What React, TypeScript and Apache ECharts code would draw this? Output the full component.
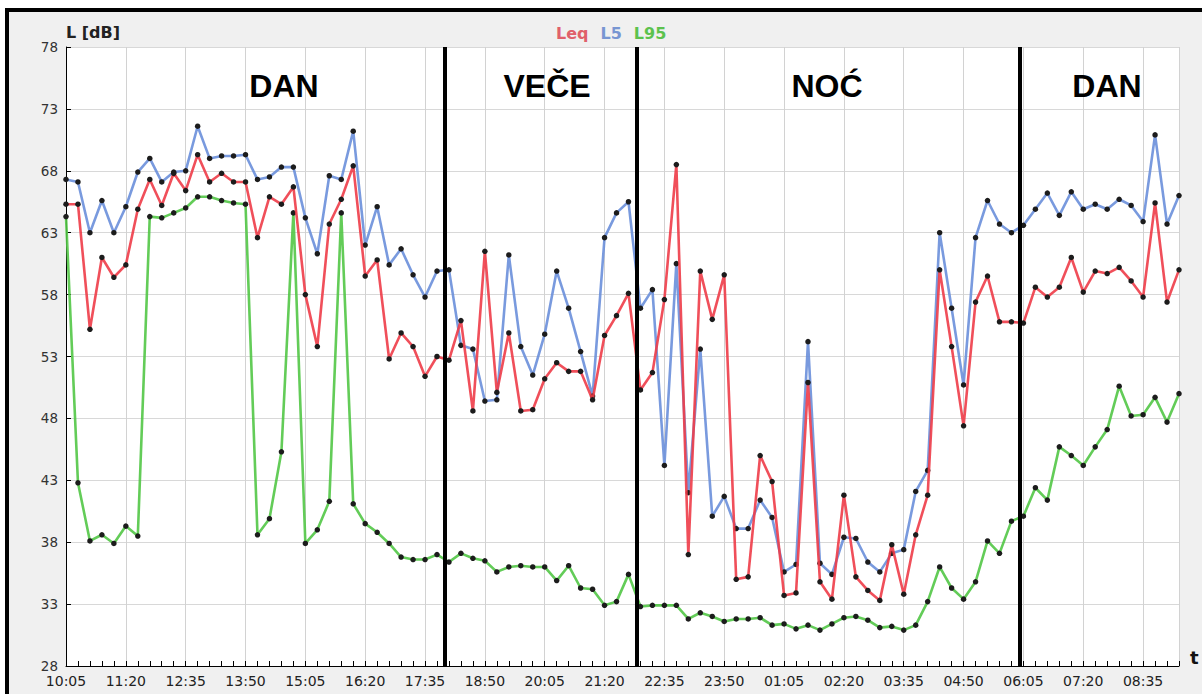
import React, { useEffect, useRef } from "react";
import * as echarts from "echarts";

// ---- data ----
const startTime = "10:05";
const stepMinutes = 15;

const leq = [
  65.3, 65.3, 55.2, 61.0, 59.4, 60.4, 64.9, 67.3, 65.2, 67.8,
  66.4, 69.3, 67.1, 67.8, 67.1, 67.1, 62.6, 65.9, 65.3, 66.7,
  58.0, 53.8, 63.7, 65.7, 68.4, 59.5, 60.8, 52.8, 54.9, 53.8,
  51.4, 53.0, 52.7, 55.9, 48.6, 61.5, 50.1, 54.9, 48.6, 48.7,
  51.2, 52.5, 51.8, 51.8, 49.5, 54.7, 56.3, 58.1, 50.3, 51.7,
  57.6, 68.5, 37.0, 59.9, 56.0, 59.6, 35.0, 35.2, 45.0, 42.9,
  33.7, 33.9, 50.9, 34.8, 33.4, 41.8, 35.2, 34.1, 33.3, 37.8,
  33.8, 38.6, 41.8, 60.0, 53.8, 47.4, 57.4, 59.5, 55.8, 55.8,
  55.7, 58.6, 57.8, 58.6, 61.0, 58.2, 59.9, 59.7, 60.2, 59.1,
  57.8, 65.4, 57.4, 60.0,
];

const l5 = [
  67.3, 67.1, 63.0, 65.6, 63.0, 65.1, 67.9, 69.0, 67.1, 67.9,
  68.0, 71.6, 69.0, 69.2, 69.2, 69.3, 67.3, 67.5, 68.3, 68.3,
  64.2, 61.3, 67.6, 67.3, 71.2, 62.0, 65.1, 60.4, 61.7, 59.6,
  57.8, 59.9, 60.0, 53.9, 53.6, 49.4, 49.5, 61.2, 53.8, 51.5,
  54.8, 59.9, 56.9, 53.4, 49.8, 62.6, 64.6, 65.5, 56.9, 58.4,
  44.2, 60.5, 42.0, 53.6, 40.1, 41.7, 39.1, 39.1, 41.4, 40.0,
  35.6, 36.2, 54.2, 36.3, 35.4, 38.4, 38.3, 36.4, 35.6, 37.1,
  37.4, 42.1, 43.8, 63.0, 56.9, 50.7, 62.6, 65.6, 63.7, 63.0,
  63.6, 64.9, 66.2, 64.4, 66.3, 64.9, 65.3, 64.9, 65.7, 65.2,
  63.9, 70.9, 63.7, 66.0,
];

const l95 = [
  64.3, 42.8, 38.1, 38.6, 37.9, 39.3, 38.5, 64.3, 64.2, 64.6,
  65.0, 65.9, 65.9, 65.6, 65.4, 65.3, 38.6, 39.9, 45.3, 64.6,
  37.9, 39.0, 41.3, 64.6, 41.1, 39.5, 38.8, 37.9, 36.8, 36.6,
  36.6, 37.0, 36.4, 37.1, 36.7, 36.5, 35.6, 36.0, 36.1, 36.0,
  36.0, 34.9, 36.1, 34.3, 34.2, 32.9, 33.2, 35.4, 32.8, 32.9,
  32.9, 32.9, 31.8, 32.3, 32.0, 31.6, 31.8, 31.8, 31.9, 31.3,
  31.4, 31.0, 31.3, 30.9, 31.4, 31.9, 32.0, 31.7, 31.1, 31.2,
  30.9, 31.3, 33.2, 36.0, 34.3, 33.4, 34.8, 38.1, 37.1, 39.7,
  40.1, 42.4, 41.4, 45.7, 45.0, 44.2, 45.7, 47.1, 50.6, 48.2,
  48.3, 49.7, 47.7, 50.0,
];

const seriesNames = ["Leq", "L5", "L95"];
const yMin = 28;
const yMax = 78;
const yStep = 5;
const labelStepMinutes = 75;
const periodBoundaries = ["18:00", "22:00", "06:00"];
const periodNames = ["DAN", "VEČE", "NOĆ", "DAN"];

// ---- helpers ----
const toMinutes = (t: string) => {
  const [h, m] = t.split(":").map(Number);
  return h * 60 + m;
};
const startMin = toMinutes(startTime);
const offsetOf = (t: string) => (toMinutes(t) - startMin + 1440) % 1440;
const fmtOffset = (v: number) => {
  const total = (startMin + v) % 1440;
  const h = Math.floor(total / 60);
  const m = total % 60;
  return `${String(h).padStart(2, "0")}:${String(m).padStart(2, "0")}`;
};
const xMax = (leq.length - 1) * stepMinutes;
const toPoints = (arr: number[]) => arr.map((v, i) => [i * stepMinutes, v - yMin]);

// ---- style ----
const lineColors: Record<string, string> = { Leq: "#ee3c48", L5: "#6a8fda", L95: "#52c646" };
const legendColors: Record<string, string> = { Leq: "#e0606a", L5: "#7896d2", L95: "#5cc24e" };
const periodLabelPos = [
  { x: 284, y: 86 },
  { x: 547, y: 86 },
  { x: 827, y: 86 },
  { x: 1107, y: 86 },
];

export default function App() {
  const ref = useRef<HTMLDivElement>(null);

  useEffect(() => {
    document.body.style.margin = "0";
    if (!ref.current) return;
    const chart = echarts.init(ref.current, undefined, { renderer: "svg" });

    const mkSeries = (name: string, data: number[], z: number, extra: any = {}) => ({
      name,
      type: "line",
      data: toPoints(data),
      xAxisIndex: 0,
      yAxisIndex: 0,
      z,
      symbol: "circle",
      symbolSize: 5.5,
      showSymbol: true,
      itemStyle: { color: "#1c1c1c", borderWidth: 0 },
      lineStyle: { color: lineColors[name], width: 2.6, opacity: 0.9 },
      emphasis: { disabled: true },
      ...extra,
    });

    const option: any = {
      animation: false,
      backgroundColor: "transparent",
      textStyle: { fontFamily: "DejaVu Sans" },
      legend: {
        top: 20,
        left: 546,
        itemWidth: 0,
        itemHeight: 0,
        itemGap: 7,
        selectedMode: false,
        data: seriesNames.map((n) => ({
          name: n,
          icon: "none",
          textStyle: { color: legendColors[n], fontWeight: "bold", fontSize: 16, fontFamily: "DejaVu Sans" },
        })),
      },
      grid: {
        left: 66,
        right: 23,
        top: 47,
        bottom: 28,
        show: true,
        backgroundColor: "#ffffff",
        borderWidth: 0,
      },
      xAxis: [
        {
          type: "value",
          min: 0,
          max: xMax,
          interval: labelStepMinutes,
          name: "t",
          nameLocation: "end",
          nameGap: 11,
          nameTextStyle: { fontWeight: "bold", fontSize: 18, color: "#111", verticalAlign: "bottom", fontFamily: "DejaVu Sans" },
          axisLine: { show: true, lineStyle: { color: "#000", width: 1 } },
          axisTick: { show: false },
          axisLabel: {
            color: "#222",
            fontSize: 14,
            margin: 8,
            showMaxLabel: false,
            formatter: (v: number) => (v % labelStepMinutes === 0 && v < xMax ? fmtOffset(v) : ""),
          },
          splitLine: { show: true, lineStyle: { color: "#d2d2d2", width: 1 } },
        },
        {
          type: "value",
          min: 0,
          max: xMax,
          interval: stepMinutes,
          position: "bottom",
          axisLine: { show: false },
          axisLabel: { show: false },
          splitLine: { show: false },
          axisTick: { show: true, inside: true, length: 5, lineStyle: { color: "#000", width: 1 } },
        },
      ],
      yAxis: {
        type: "value",
        min: 0,
        max: yMax - yMin,
        interval: yStep,
        name: "L [dB]",
        nameLocation: "end",
        nameGap: 7,
        nameTextStyle: { fontWeight: "bold", fontSize: 16, color: "#222", align: "left", fontFamily: "DejaVu Sans" },
        axisLine: { show: true, lineStyle: { color: "#000", width: 1 } },
        axisTick: { show: true, inside: true, length: 5, lineStyle: { color: "#000" } },
        axisLabel: {
          color: "#333",
          fontSize: 13.5,
          margin: 8,
          formatter: (v: number) => String(v + yMin),
        },
        splitLine: { show: true, lineStyle: { color: "#d8d8d8", width: 1 } },
      },
      graphic: periodNames.map((name, i) => ({
        type: "text",
        x: periodLabelPos[i].x,
        y: periodLabelPos[i].y,
        z: 100,
        silent: true,
        style: {
          text: name,
          font: 'bold 32px "Liberation Sans"',
          fill: "#000",
          align: "center",
          verticalAlign: "middle",
        },
      })),
      series: [
        mkSeries("L95", l95, 2, {
          markLine: {
            silent: true,
            symbol: ["none", "none"],
            label: { show: false },
            lineStyle: { color: "#000", width: 4, type: "solid" },
            emphasis: { disabled: true },
            data: periodBoundaries.map((t) => ({ xAxis: offsetOf(t) })),
          },
        }),
        mkSeries("L5", l5, 3),
        mkSeries("Leq", leq, 4),
      ],
    };

    chart.setOption(option);
    return () => chart.dispose();
  }, []);

  return (
    <div style={{ position: "fixed", left: 0, top: 0, width: 1202, height: 694, background: "#fff" }}>
      <div
        style={{
          position: "absolute",
          left: 5,
          top: 8,
          width: 1197,
          height: 686,
          boxSizing: "border-box",
          borderTop: "4px solid #000",
          borderLeft: "4px solid #000",
          background: "#f0f0f0",
        }}
      />
      <div ref={ref} style={{ position: "absolute", left: 0, top: 0, width: 1202, height: 694 }} />
    </div>
  );
}
